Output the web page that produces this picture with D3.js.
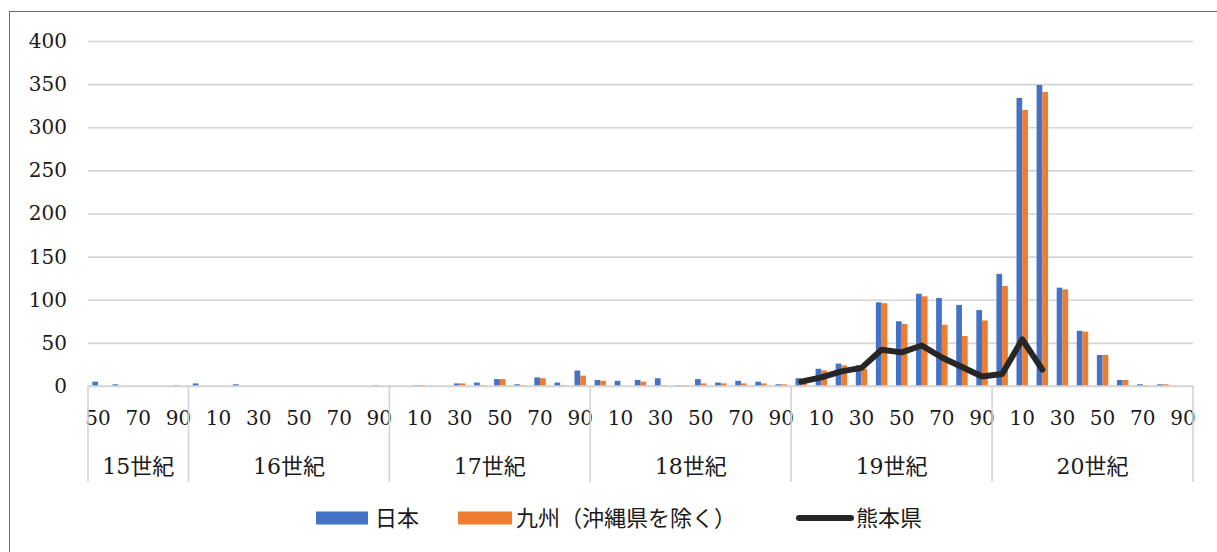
<!DOCTYPE html>
<html>
<head>
<meta charset="utf-8">
<script src="https://cdn.jsdelivr.net/npm/d3@7"></script>
<style>
  html, body { margin: 0; padding: 0; background: #fff; }
  svg { display: block; }
  .num { font-family: "DejaVu Serif", "Liberation Serif", serif; font-size: 20px; fill: #1a1a1a; }
  .cjk { font-family: "Noto Sans CJK JP", sans-serif; font-size: 22px; fill: #1a1a1a; }
</style>
</head>
<body>
<div id="chart"></div>
<script>
// Decades on the category axis (1450s through 1990s)
const decades = [
  1450, 1460, 1470, 1480, 1490,
  1500, 1510, 1520, 1530, 1540, 1550, 1560, 1570, 1580, 1590,
  1600, 1610, 1620, 1630, 1640, 1650, 1660, 1670, 1680, 1690,
  1700, 1710, 1720, 1730, 1740, 1750, 1760, 1770, 1780, 1790,
  1800, 1810, 1820, 1830, 1840, 1850, 1860, 1870, 1880, 1890,
  1900, 1910, 1920, 1930, 1940, 1950, 1960, 1970, 1980, 1990
];

// 日本
const japan = [
  5, 2, 0, 0, 1,
  3, 0, 2, 0, 0, 0, 0, 0, 0, 1,
  0, 1, 0, 3, 4, 8, 2, 10, 4, 18,
  7, 6, 7, 9, 1, 8, 4, 6, 5, 2,
  9, 20, 26, 24, 97, 75, 107, 102, 94, 88,
  130, 334, 349, 114, 64, 36, 7, 2, 2, 0
];

// 九州（沖縄県を除く）
const kyushu = [
  0, 0, 0, 0, 0,
  0, 0, 0, 0, 0, 0, 0, 0, 0, 0,
  0, 1, 0, 3, 1, 8, 1, 9, 1, 12,
  6, 0, 5, 1, 1, 3, 3, 3, 3, 2,
  6, 18, 24, 20, 96, 72, 104, 71, 58, 76,
  116, 320, 341, 112, 63, 36, 7, 1, 2, 0
];

// 熊本県 (line, 1800s–1920s)
const kumamotoDecades = [1800, 1810, 1820, 1830, 1840, 1850, 1860, 1870, 1880, 1890, 1900, 1910, 1920];
const kumamoto = [5, 10, 17, 21, 42, 39, 47, 33, 22, 11, 14, 54, 19];

const centuryLabels = ["15世紀", "16世紀", "17世紀", "18世紀", "19世紀", "20世紀"];
const yTicks = [0, 50, 100, 150, 200, 250, 300, 350, 400];

const seriesNames = ["日本", "九州（沖縄県を除く）", "熊本県"];
const colors = { japan: "#4472C4", kyushu: "#ED7D31", line: "#262626", grid: "#d4d4d4" };

const W = 1217, H = 552;
const plot = { left: 88, right: 1193, top: 41, bottom: 386 };

const svg = d3.select("#chart").append("svg").attr("width", W).attr("height", H);

// outer frame
svg.append("rect")
  .attr("x", 9.5).attr("y", 11.5).attr("width", W).attr("height", H)
  .attr("fill", "none").attr("stroke", "#6e6e6e").attr("stroke-width", 1);

const x = d3.scaleBand().domain(decades).range([plot.left, plot.right]).padding(0);
const y = d3.scaleLinear().domain([0, 400]).range([plot.bottom, plot.top]);

// horizontal gridlines + value labels
const yAxis = d3.axisLeft(y).tickValues(yTicks).tickSize(-(plot.right - plot.left)).tickPadding(21);
const yg = svg.append("g").attr("transform", `translate(${plot.left},0)`).call(yAxis);
yg.select(".domain").remove();
yg.selectAll(".tick line").attr("stroke", colors.grid).attr("stroke-width", 1.6);
yg.selectAll(".tick text").attr("class", "num").attr("fill", null);

// bars
const bw = x.bandwidth();
const barW = bw * 0.285;
const pairs = decades.map((d, i) => ({ d, j: japan[i], k: kyushu[i] }));

svg.append("g").selectAll("rect").data(pairs).join("rect")
  .attr("x", p => x(p.d) + bw / 2 - barW)
  .attr("y", p => y(p.j))
  .attr("width", barW)
  .attr("height", p => y(0) - y(p.j))
  .attr("fill", colors.japan);

svg.append("g").selectAll("rect").data(pairs).join("rect")
  .attr("x", p => x(p.d) + bw / 2)
  .attr("y", p => y(p.k))
  .attr("width", barW)
  .attr("height", p => y(0) - y(p.k))
  .attr("fill", colors.kyushu);

// category axis line
svg.append("line")
  .attr("x1", plot.left).attr("x2", plot.right)
  .attr("y1", y(0)).attr("y2", y(0))
  .attr("stroke", colors.grid).attr("stroke-width", 1.6);

// decade labels (every other decade)
const xAxis = d3.axisBottom(x)
  .tickValues(decades.filter((d, i) => i % 2 === 0))
  .tickFormat(d => String(d % 100).padStart(2, "0"))
  .tickSize(0).tickPadding(0);
const xg = svg.append("g").attr("transform", `translate(0,${y(0)})`).call(xAxis);
xg.select(".domain").remove();
xg.selectAll(".tick text").attr("class", "num").attr("fill", null)
  .attr("y", 39).attr("dy", "0");

// century groups: separators and labels
const centuryOf = d => Math.floor(d / 100) + 1;
const groups = d3.groups(decades, centuryOf);
const sepX = [plot.left];
groups.forEach(([c, ds], gi) => {
  const x0 = x(ds[0]);
  const x1 = x(ds[ds.length - 1]) + bw;
  sepX.push(x1);
  svg.append("text").attr("class", "cjk")
    .attr("x", (x0 + x1) / 2).attr("y", 474)
    .attr("text-anchor", "middle")
    .style("font-family", "'DejaVu Serif', 'Noto Sans CJK JP', serif")
    .text(centuryLabels[gi]);
});
svg.append("g").selectAll("line").data(sepX).join("line")
  .attr("x1", d => d).attr("x2", d => d)
  .attr("y1", y(0)).attr("y2", 482)
  .attr("stroke", colors.grid).attr("stroke-width", 1.6);

// 熊本県 line
const line = d3.line()
  .x((v, i) => x(kumamotoDecades[i]) + bw / 2)
  .y(v => y(v));
svg.append("path")
  .datum(kumamoto)
  .attr("d", line)
  .attr("fill", "none")
  .attr("stroke", colors.line)
  .attr("stroke-width", 6)
  .attr("stroke-linejoin", "round")
  .attr("stroke-linecap", "round");

// legend
const ly = 518;
const lg = svg.append("g");
lg.append("rect").attr("x", 316).attr("y", ly - 6.5).attr("width", 52).attr("height", 13).attr("fill", colors.japan);
lg.append("text").attr("class", "cjk").attr("x", 375).attr("y", ly + 8).text(seriesNames[0]);
lg.append("rect").attr("x", 458).attr("y", ly - 6.5).attr("width", 54).attr("height", 13).attr("fill", colors.kyushu);
lg.append("text").attr("class", "cjk").attr("x", 516).attr("y", ly + 8).text(seriesNames[1]);
lg.append("line").attr("x1", 799).attr("x2", 851).attr("y1", ly).attr("y2", ly)
  .attr("stroke", colors.line).attr("stroke-width", 6).attr("stroke-linecap", "round");
lg.append("text").attr("class", "cjk").attr("x", 856).attr("y", ly + 8).text(seriesNames[2]);
</script>
</body>
</html>
